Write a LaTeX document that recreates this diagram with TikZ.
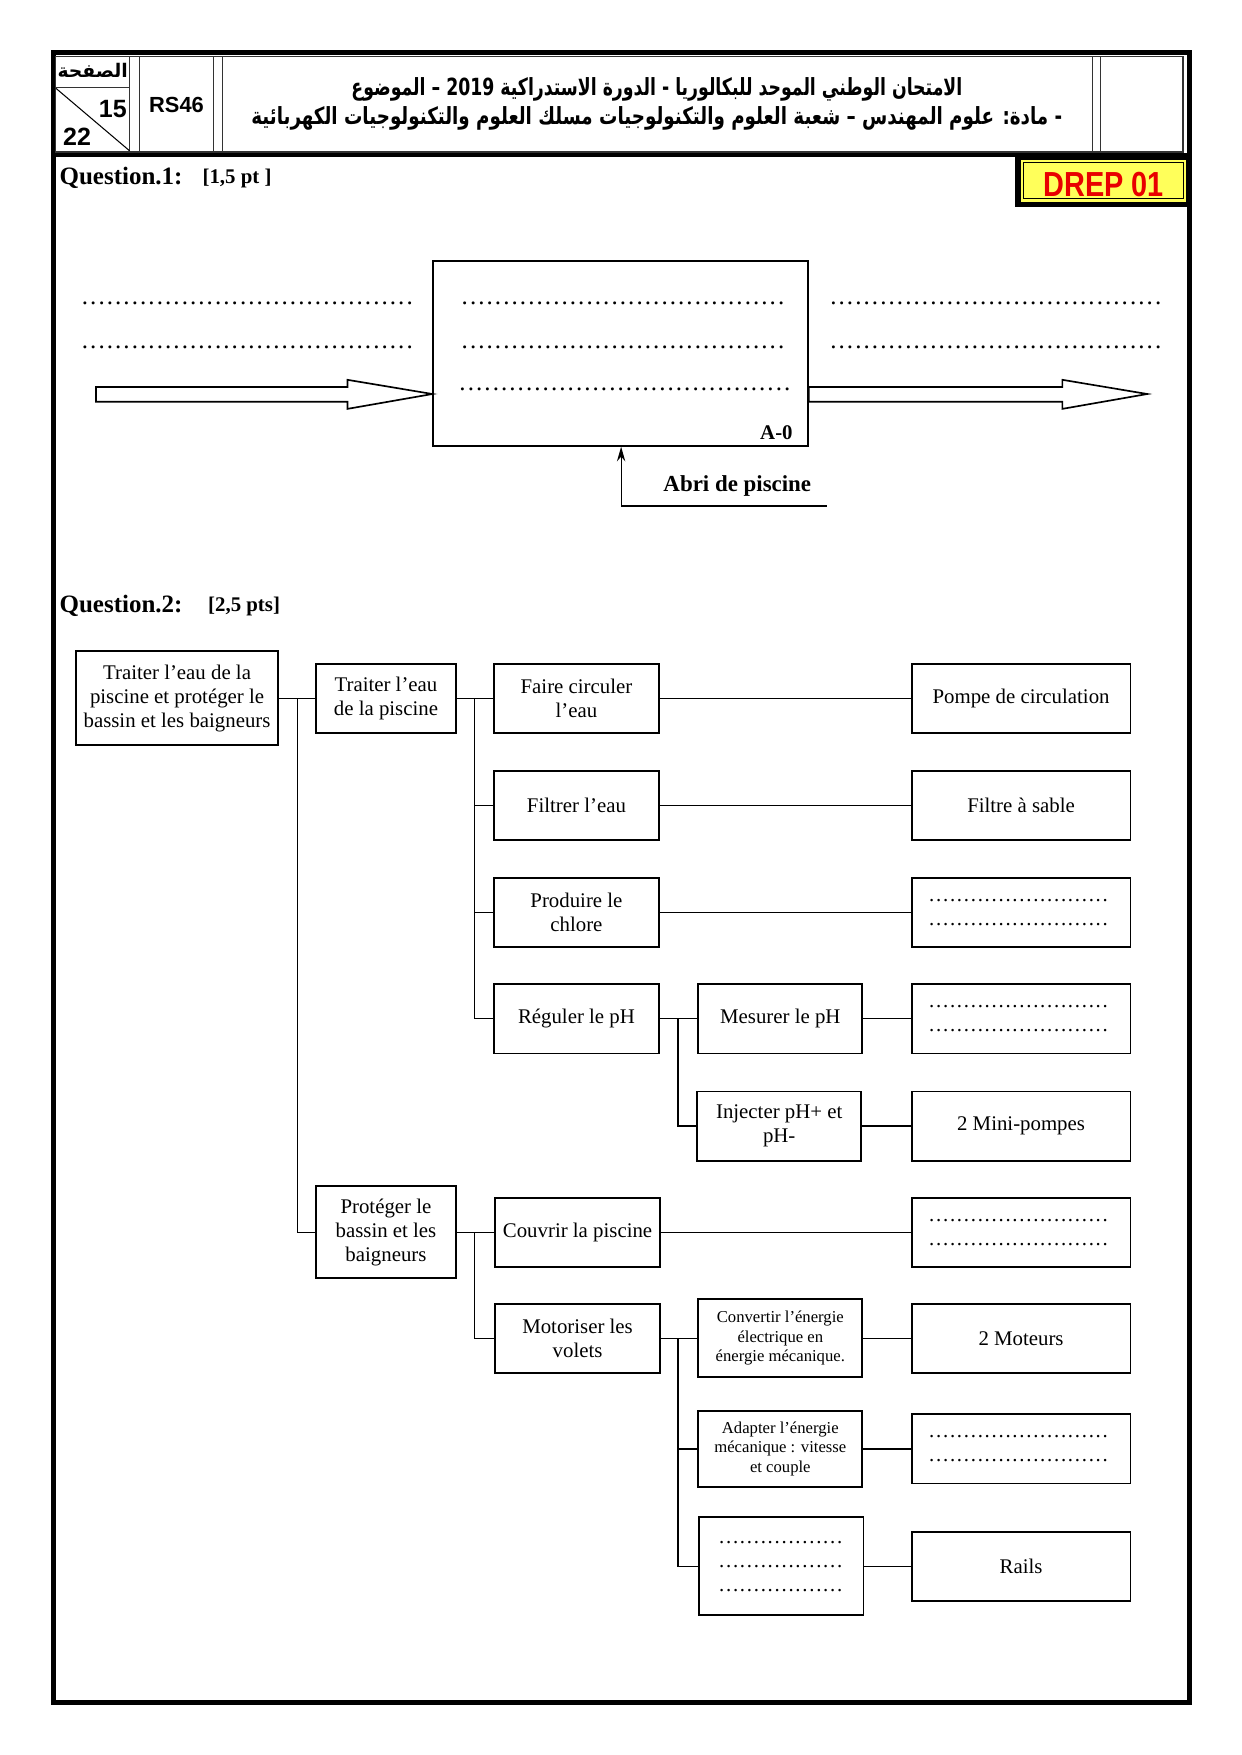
\documentclass[tikz,border=0pt]{standalone}
\usepackage{fontspec}
\usepackage{graphicx}
\setmainfont{Liberation Serif}
\newfontfamily\arialfont{Liberation Sans}
\newfontfamily\arabicfont[Script=Arabic]{DejaVu Sans}
\TeXXeTstate=1
\usetikzlibrary{calc}
\usetikzlibrary{arrows.meta}
\definecolor{drepyellow}{RGB}{255,255,90}
\definecolor{drepred}{RGB}{232,0,0}
\tikzset{
  fastbox/.style={draw, line width=0.9pt, inner sep=1pt, align=center, font=\fontsize{10}{11.5}\selectfont},
  fastsmall/.style={font=\fontsize{8}{9.4}\selectfont},
  fastline/.style={line width=0.6pt},
  headline/.style={line width=0.6pt, black!80},
  dotrow/.style={anchor=west, inner sep=0pt, font=\fontsize{12}{14}\selectfont},
  qtitle/.style={anchor=west, inner sep=0pt, font=\fontsize{12}{14}\selectfont\bfseries},
  qpts/.style={anchor=west, inner sep=0pt, font=\fontsize{10}{12}\selectfont\bfseries},
  arabtitle/.style={inner sep=0pt, font=\arabicfont\bfseries\fontsize{10.5}{13}\selectfont},
  headnum/.style={inner sep=0pt, font=\arialfont\bfseries\fontsize{12}{14}\selectfont}
}
\newcommand{\fastbox}[7][]{\node[fastbox,#1,minimum width={(#5-#3)*0.5362pt},minimum height={(#6-#4)*0.5362pt}] (#2) at ({(#3+#5)/2},{(#4+#6)/2}) {#7};}
\newcommand{\bigarrow}[2]{\draw[line width=0.8pt] ($(#1)+(0,-6.3)$) -- ($(#2)+(-76,-6.3)$) -- ($(#2)+(-76,-12.7)$) -- (#2) -- ($(#2)+(-76,13.3)$) -- ($(#2)+(-76,6.9)$) -- ($(#1)+(0,6.9)$) -- cycle;}
\newcommand{\dotline}[2][0.333em]{\hbox to #2{\leaders\hbox to #1{\hss.\hss}\hfill}}
\newcommand{\dotstwo}{\dotline{89pt}\\\dotline{89pt}}

\begin{document}
\begin{tikzpicture}[x=0.5362pt, y=-0.5362pt]
        \useasboundingbox (0,0) rectangle (1111,1571);
        % page frame
        \draw[line width=2.4pt] (47.5,47) rectangle (1065,1524);
        % header
        \draw[headline] (50,50.5) rectangle (1059,136);
        \foreach \x in {116,125,191,199,978,985}
            \draw[headline] (\x,50.5) -- (\x,136);
        \draw[headline] (50,78.5) -- (116,78.5);
        \draw[line width=0.5pt] (50,79) -- (116,135);
        \draw[line width=2pt] (47.5,139) -- (1065,139);
        \node[inner sep=0pt, font=\arabicfont\bfseries\fontsize{9}{10}\selectfont] (pagelabel) at (83,63) {\beginR الصفحة\endR};
        \node[headnum] (pagenum) at (101,98) {15};
        \node[headnum] (pagetotal) at (69,122) {22};
        \node[headnum, font=\arialfont\bfseries\fontsize{10.5}{12}\selectfont] (code) at (158,94) {RS46};
        \node[arabtitle] (titleone) at (588,80) {\scalebox{0.79}[1.08]{\beginR الامتحان الوطني الموحد للبكالوريا - الدورة الاستدراكية \beginL2019\endL{} – الموضوع\endR}};
        \node[arabtitle] (titletwo) at (588,106) {\scalebox{0.836}[1.08]{\beginR - مادة: علوم المهندس – شعبة العلوم والتكنولوجيات مسلك العلوم والتكنولوجيات الكهربائية\endR}};
        % DREP 01
        \fill[black] (909,138) rectangle (1067,185.5);
        \fill[drepyellow] (914,143) rectangle (1062,180.5);
        \draw[line width=0.5pt] (916.5,145.5) rectangle (1059.5,178);
        \node[inner sep=0pt, text=drepred, font=\arialfont\bfseries\fontsize{16.7}{18}\selectfont] (drep) at (988,165) {\scalebox{0.83}[1]{DREP 01}};

        % question 1
        \node[qtitle] (qone) at (53,159) {Question.1:};
        \node[qpts] (qonepts) at (181,160) {[1,5 pt ]};
        \node[draw, line width=1pt, minimum width={335*0.5362pt}, minimum height={165*0.5362pt}] (a0) at (555.5,316.5) {};
        \node[inner sep=0pt, font=\fontsize{10}{12}\selectfont\bfseries] (a0label) at (695,387) {A-0};
        \node[dotrow] (inone) at (72,272) {\dotline{162pt}};
        \node[dotrow] (intwo) at (72,311) {\dotline{162pt}};
        \node[dotrow] (funone) at (412,272) {\dotline{157pt}};
        \node[dotrow] (funtwo) at (412,311) {\dotline{157pt}};
        \node[dotrow] (funthree) at (410,349) {\dotline{160pt}};
        \node[dotrow] (outone) at (742,272) {\dotline{163pt}};
        \node[dotrow] (outtwo) at (742,311) {\dotline{163pt}};
        \coordinate (inA) at (86,352.7);
        \coordinate (inTip) at (a0.west |- inA);
        \coordinate (outTail) at (a0.east |- inA);
        \coordinate (outA) at (1027,352.7);
        \bigarrow{inA}{inTip}
        \bigarrow{outTail}{outA}
        \node[inner sep=0pt, font=\fontsize{11}{13}\selectfont\bfseries] (abri) at (660,435) {Abri de piscine};
        \coordinate (ctrl) at (556,453);
        \coordinate (ctrlEnd) at (740,453);
        \draw[fastline, -{Stealth[length=7pt,width=4pt]}] (ctrl) -- (ctrl |- a0.south);
        \draw[fastline] (ctrl) -- (ctrlEnd);

        % question 2
        \node[qtitle] (qtwo) at (53,542) {Question.2:};
        \node[qpts] (qtwopts) at (186,543) {[2,5 pts]};
        % level 1 and 2
        \fastbox{fpA}{68}{583}{249}{667}{Traiter l’eau de la\\piscine et protéger le\\bassin et les baigneurs}
        \fastbox{fB1}{283}{594}{408}{656}{Traiter l’eau\\de la piscine}
        \fastbox{fB2}{283}{1062}{408}{1144}{Protéger le\\bassin et les\\baigneurs}
        % level 3
        \fastbox{fC1}{442}{594}{590}{656}{Faire circuler\\l’eau}
        \fastbox{fC2}{442}{690}{590}{752}{Filtrer l’eau}
        \fastbox{fC3}{442}{786}{590}{848}{Produire le\\chlore}
        \fastbox{fC4}{442}{881}{590}{943}{Réguler le pH}
        \fastbox{fC5}{443}{1072}{591}{1134}{Couvrir la piscine}
        \fastbox{fC6}{443}{1167}{591}{1229}{Motoriser les\\volets}
        % level 4
        \fastbox{fD1}{625}{881}{772}{943}{Mesurer le pH}
        \fastbox{fD2}{624}{977}{771}{1039}{Injecter pH+ et\\pH-}
        \fastbox[fastsmall]{fD3}{625}{1163}{772}{1233}{Convertir l’énergie\\électrique en\\énergie mécanique.}
        \fastbox[fastsmall]{fD4}{625}{1263}{772}{1331}{Adapter l’énergie\\mécanique : vitesse\\et couple}
        \fastbox{fD5}{626}{1358}{773}{1446}{\dotline{60.6pt}\\\dotline{60.6pt}\\\dotline{60.6pt}}
        % solutions
        \fastbox{sE1}{816}{594}{1012}{656}{Pompe de circulation}
        \fastbox{sE2}{816}{690}{1012}{752}{Filtre à sable}
        \fastbox{sE3}{816}{786}{1012}{848}{\dotstwo}
        \fastbox{sE4}{816}{881}{1012}{943}{\dotstwo}
        \fastbox{sE5}{816}{977}{1012}{1039}{2 Mini-pompes}
        \fastbox{sE6}{816}{1072}{1012}{1134}{\dotstwo}
        \fastbox{sE7}{816}{1167}{1012}{1229}{2 Moteurs}
        \fastbox{sE8}{816}{1266}{1012}{1328}{\dotstwo}
        \fastbox{sE9}{816}{1371}{1012}{1433}{Rails}
        % links
        \coordinate (busA) at (266,0);
        \coordinate (busB) at (425,0);
        \coordinate (busC) at (607,0);
        \draw[fastline] (fpA.east) -- (fB1.west);
        \draw[fastline] (busA |- fpA.east) |- (fB2.west);
        \draw[fastline] (fB1.east) -- (fC1.west);
        \foreach \n in {fC2,fC3,fC4}
            \draw[fastline] (busB |- fB1.east) |- (\n.west);
        \draw[fastline] (fB2.east) -- (fC5.west);
        \draw[fastline] (busB |- fB2.east) |- (fC6.west);
        \draw[fastline] (fC4.east) -- (fD1.west);
        \draw[fastline] (busC |- fC4.east) |- (fD2.west);
        \draw[fastline] (fC6.east) -- (fD3.west);
        \foreach \n in {fD4,fD5}
            \draw[fastline] (busC |- fC6.east) |- (\n.west);
        \draw[fastline] (fC1.east) -- (sE1.west);
        \draw[fastline] (fC2.east) -- (sE2.west);
        \draw[fastline] (fC3.east) -- (sE3.west);
        \draw[fastline] (fD1.east) -- (sE4.west);
        \draw[fastline] (fD2.east) -- (sE5.west);
        \draw[fastline] (fC5.east) -- (sE6.west);
        \draw[fastline] (fD3.east) -- (sE7.west);
        \draw[fastline] (fD4.east) -- (sE8.west);
        \draw[fastline] (fD5.east) -- (sE9.west);
\end{tikzpicture}
\end{document}
